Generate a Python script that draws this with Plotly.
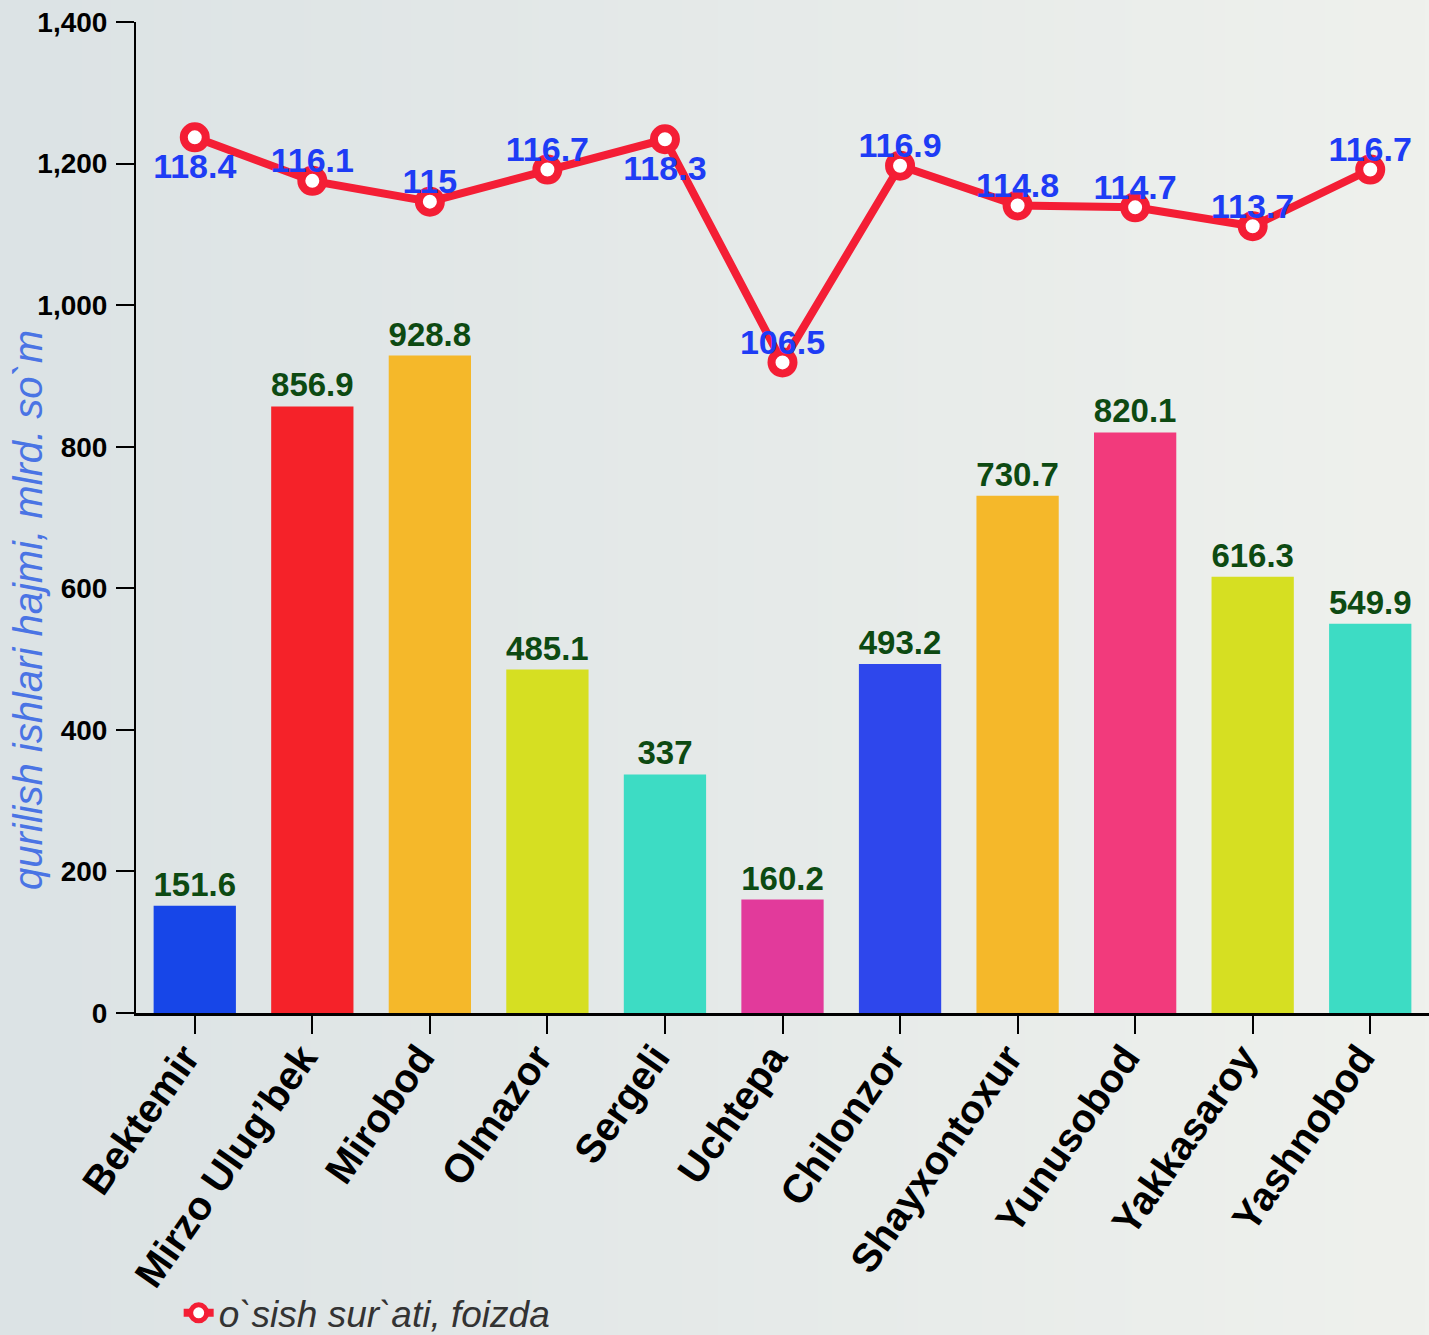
import base64, struct, zlib
import plotly.graph_objects as go

categories = ["Bektemir", "Mirzo Ulug’bek", "Mirobod", "Olmazor", "Sergeli", "Uchtepa",
              "Chilonzor", "Shayxontoxur", "Yunusobod", "Yakkasaroy", "Yashnobod"]
volume = [151.6, 856.9, 928.8, 485.1, 337, 160.2, 493.2, 730.7, 820.1, 616.3, 549.9]
growth = [118.4, 116.1, 115, 116.7, 118.3, 106.5, 116.9, 114.8, 114.7, 113.7, 116.7]
bar_colors = ["#1746e8", "#f52229", "#f5b82a", "#d6df22", "#3ddcc4", "#e23a9b",
              "#2e47ec", "#f5b82a", "#f23a7c", "#d6df22", "#3ddcc4"]
label_below = [True, False, False, False, True, False, False, False, False, False, False]
y_ticks = [0, 200, 400, 600, 800, 1000, 1200, 1400]


def make_png(w, h, c1, c2):
    raw = b""
    for y in range(h):
        row = b"\x00"
        for x in range(w):
            t = x / (w - 1)
            r = int(c1[0] + (c2[0] - c1[0]) * t)
            g = int(c1[1] + (c2[1] - c1[1]) * t)
            b = int(c1[2] + (c2[2] - c1[2]) * t)
            row += bytes([r, g, b])
        raw += row

    def chunk(tag, data):
        c = struct.pack(">I", len(data)) + tag + data
        return c + struct.pack(">I", zlib.crc32(tag + data) & 0xffffffff)

    png = b"\x89PNG\r\n\x1a\n"
    png += chunk(b"IHDR", struct.pack(">IIBBBBB", w, h, 8, 2, 0, 0, 0))
    png += chunk(b"IDAT", zlib.compress(raw, 9))
    png += chunk(b"IEND", b"")
    return "data:image/png;base64," + base64.b64encode(png).decode()


bg = make_png(200, 20, (220, 227, 229), (239, 241, 237))

W, H = 1429, 1335
ML, MR, MT, MB = 136, 0, 22, 322
PW, PH = W - ML - MR, H - MT - MB

label_font = dict(family="Liberation Sans, Arial", size=34, color="#1e3cf5", weight="bold")

fig = go.Figure()
fig.add_trace(go.Bar(
    x=categories, y=volume, marker=dict(color=bar_colors, line=dict(width=0)),
    text=[f"{v:g}" for v in volume], textposition="outside", constraintext="none",
    textfont=dict(family="Liberation Sans, Arial", size=33, color="#0d4a12", weight="bold"),
    cliponaxis=False, showlegend=False, hoverinfo="x+y",
))
fig.add_trace(go.Scatter(
    x=categories, y=growth, yaxis="y2", mode="lines+markers+text",
    name="o`sish sur`ati, foizda",
    line=dict(color="#f41e35", width=8),
    marker=dict(size=22, color="white", line=dict(color="#f41e35", width=8)),
    text=[f"{v:g}" if b else "" for v, b in zip(growth, label_below)],
    textposition="bottom center", textfont=label_font,
    cliponaxis=False,
))
fig.add_trace(go.Scatter(
    x=categories, y=growth, yaxis="y2", mode="text",
    text=["" if b else f"{v:g}" for v, b in zip(growth, label_below)],
    textposition="top center", textfont=label_font,
    cliponaxis=False, showlegend=False, hoverinfo="skip",
))

fig.update_layout(
    width=W, height=H, autosize=False,
    margin=dict(l=ML, r=MR, t=MT, b=MB, autoexpand=False),
    paper_bgcolor="#e6eaea", plot_bgcolor="rgba(0,0,0,0)",
    bargap=0.3,
    images=[dict(source=bg, xref="paper", yref="paper", x=-ML / PW, y=1 + MT / PH,
                 sizex=W / PW, sizey=H / PH,
                 sizing="stretch", layer="below", xanchor="left", yanchor="top")],
    xaxis=dict(
        range=[-0.5, len(categories) - 0.5],
        tickangle=-55, ticks="outside", ticklen=18, tickwidth=2, tickcolor="black",
        ticklabelstandoff=-16, ticklabelshift=-10,
        showline=True, linewidth=3, linecolor="black", showgrid=False,
        tickfont=dict(family="Liberation Sans, Arial", size=40, color="black", weight="bold"),
    ),
    yaxis=dict(
        range=[0, 1400], tickvals=y_ticks, tickformat=",", ticks="outside", ticklen=18,
        tickwidth=2, tickcolor="black", showline=True, linewidth=2, linecolor="black",
        showgrid=False, zeroline=False, ticklabelstandoff=3,
        tickfont=dict(family="Liberation Sans, Arial", size=28, color="black", weight="bold"),
    ),
    yaxis2=dict(range=[72.1, 124.5], overlaying="y", visible=False),
    annotations=[dict(
        text="qurilish ishlari hajmi, mlrd. so`m", textangle=-90,
        xref="paper", yref="paper", x=(28 - ML) / PW, y=(MT + PH - 610) / PH,
        xanchor="center", yanchor="middle", showarrow=False,
        font=dict(family="Liberation Sans, Arial", size=40, color="#4a74e4", style="italic"),
    )],
    legend=dict(x=0.033, y=-0.303, xanchor="left", yanchor="middle", bgcolor="rgba(0,0,0,0)",
                font=dict(family="Liberation Sans, Arial", size=37, color="#333333", style="italic")),
)

fig.write_html("out.html", config={"displayModeBar": False},
               post_script="document.body.style.margin='0';")
